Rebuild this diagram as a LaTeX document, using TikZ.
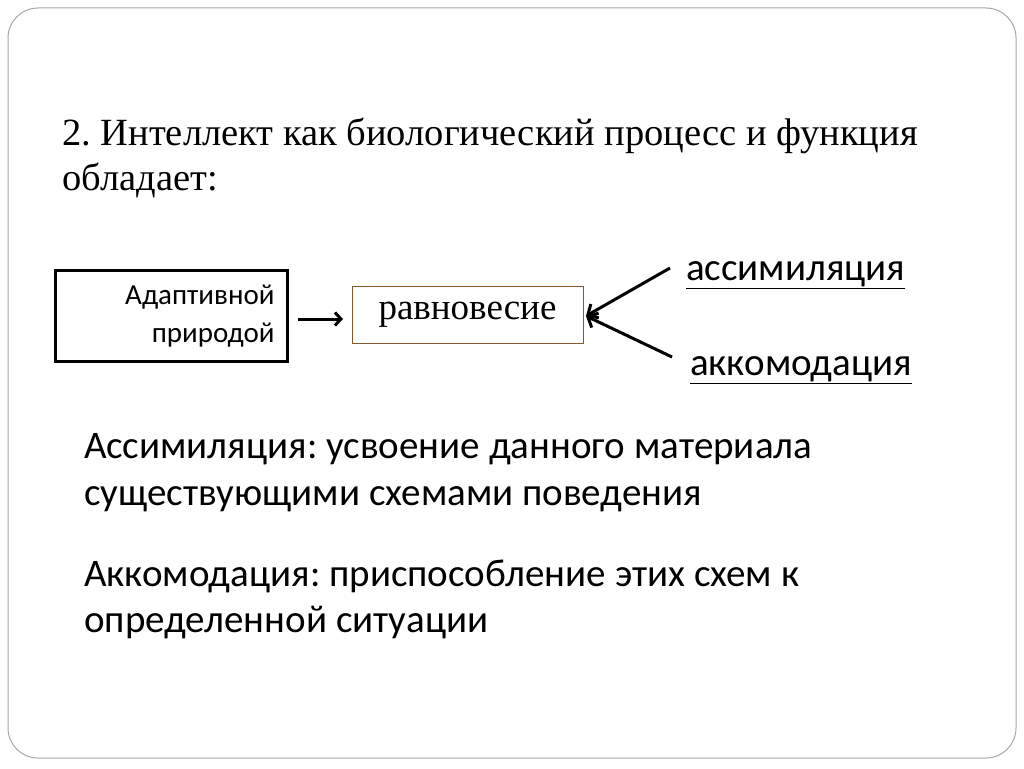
\documentclass[tikz,border=0pt]{standalone}
\usepackage{fontspec}
\setmainfont{Liberation Serif}
\newfontfamily\bodyf{Carlito}
\usetikzlibrary{arrows.meta}
\begin{document}
\frenchspacing
\begin{tikzpicture}[x=1pt,y=-1pt,
  txt/.style={inner sep=0pt,anchor=base west},
  conn/.style={line width=3pt,-{Straight Barb[length=8pt,width=16pt]}}]
\useasboundingbox (0,0) rectangle (1024,768);
\draw[gray!70,line width=1pt,rounded corners=30] (8,8) rectangle (1016,758);
\node[txt,font=\fontsize{38.5}{44}\selectfont] (t1) at (62,145) {2. Интеллект как биологический процесс и функция};
\node[txt,font=\fontsize{38.5}{44}\selectfont] (t2) at (62,190) {обладает:};
\node[draw,line width=3pt,minimum width=232pt,minimum height=91pt,inner sep=0pt] (ad) at (171.5,316) {};
\node[font=\bodyf\fontsize{29}{38}\selectfont,align=right,anchor=east] (adt) at (278,316) {Адаптивной\\природой};
\node[draw=brown!70!black,line width=0.8pt,minimum width=231pt,minimum height=57pt,inner sep=0pt,font=\fontsize{37}{40}\selectfont] (ra) at (467.5,314.5) {равновесие};
\draw[conn,-{Straight Barb[length=6pt,width=13pt]}] (298,319) -- (343,319);
\coordinate (a1) at (670,268);
\coordinate (a2) at (672,357);
\draw[conn] (a1) -- (586,316);
\draw[conn] (a2) -- (586,316);
\node[txt,font=\bodyf\fontsize{39}{44}\selectfont] (as) at (686,280) {\underline{ассимиляция}};
\node[txt,font=\bodyf\fontsize{39}{44}\selectfont] (ak) at (690,375) {\underline{аккомодация}};
\node[txt,font=\bodyf\fontsize{39}{44}\selectfont] (p1) at (84,458) {Ассимиляция: усвоение данного материала};
\node[txt,font=\bodyf\fontsize{39}{44}\selectfont] (p2) at (84,505) {существующими схемами поведения};
\node[txt,font=\bodyf\fontsize{39}{44}\selectfont] (p3) at (84,586) {Аккомодация: приспособление этих схем к};
\node[txt,font=\bodyf\fontsize{39}{44}\selectfont] (p4) at (84,632) {определенной ситуации};
\end{tikzpicture}
\end{document}
